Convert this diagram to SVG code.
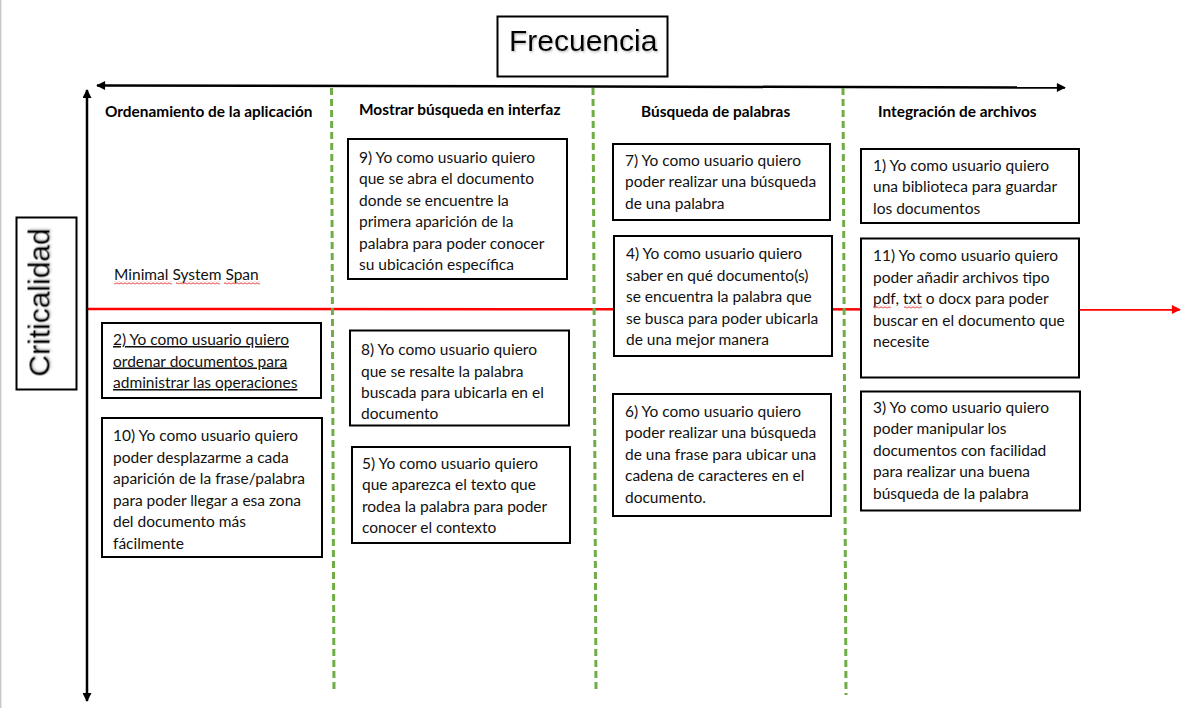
<svg xmlns="http://www.w3.org/2000/svg" width="1182" height="708" viewBox="0 0 1182 708">
<defs>
<style>
.box{fill:#fff;stroke:#000;stroke-width:2}
.t{font-family:Lato,"Open Sans","Liberation Sans",sans-serif;font-size:15.5px;fill:#111}
.h{font-family:Lato,"Open Sans","Liberation Sans",sans-serif;font-size:15.4px;font-weight:bold;fill:#000}
.big{font-family:"Liberation Sans",Arial,sans-serif;font-size:30px;fill:#000}
.axis{stroke:#000;stroke-width:2.5;fill:none}
.div{stroke:#70AD47;stroke-width:3;stroke-dasharray:7 4;fill:none}
.red{stroke:#FF0000;stroke-width:2.5;fill:none}
</style>
<marker id="ab" viewBox="0 0 10 10" refX="9" refY="5" markerWidth="10" markerHeight="9" markerUnits="userSpaceOnUse" orient="auto-start-reverse">
<path d="M0,0 L10,5 L0,10 Z" fill="#000"/>
</marker>
<marker id="ar" viewBox="0 0 10 10" refX="9" refY="5" markerWidth="10" markerHeight="9" markerUnits="userSpaceOnUse" orient="auto">
<path d="M0,0 L10,5 L0,10 Z" fill="#FF0000"/>
</marker>
<pattern id="sq" width="4" height="3" patternUnits="userSpaceOnUse">
<path d="M0,1.5 Q1,0 2,1.5 Q3,3 4,1.5" stroke="#E02020" stroke-width="0.9" fill="none"/>
</pattern>
<filter id="sh" x="-10%" y="-10%" width="120%" height="130%">
<feDropShadow dx="1" dy="1.2" stdDeviation="0.9" flood-color="#777" flood-opacity="0.55"/>
</filter>
</defs>
<rect x="0" y="0" width="1182" height="708" fill="#fff"/>
<line x1="0.7" y1="0" x2="0.7" y2="708" stroke="#c8c8c8" stroke-width="1.4"/>

<g id="connectors">
<line class="red" x1="87" y1="309" x2="1180" y2="309.5" marker-end="url(#ar)"/>
<line class="axis" x1="97" y1="85.5" x2="1065" y2="87.5" marker-start="url(#ab)" marker-end="url(#ab)"/>
<line class="axis" x1="87" y1="90" x2="87" y2="701" marker-start="url(#ab)" marker-end="url(#ab)"/>
<line class="div" x1="331.5" y1="88" x2="334" y2="693"/>
<line class="div" x1="593" y1="88" x2="596" y2="692"/>
<line class="div" x1="843" y1="88" x2="846" y2="695"/>
</g>

<g id="frecuencia">
<rect class="box" x="497.5" y="16.5" width="170" height="60" stroke-width="1.3"/>
<text class="big" x="509" y="51" filter="url(#sh)">Frecuencia</text>
</g>

<g id="criticalidad">
<rect class="box" x="16.5" y="217.5" width="60" height="172" stroke-width="1.3"/>
<text class="big" transform="translate(49.5,302.5) rotate(-90)" text-anchor="middle" filter="url(#sh)">Criticalidad</text>
</g>

<g id="headers">
<text class="h" x="105" y="116.5">Ordenamiento de la aplicación</text>
<text class="h" x="359" y="114.5">Mostrar búsqueda en interfaz</text>
<text class="h" x="641" y="116.5">Búsqueda de palabras</text>
<text class="h" x="878" y="116.5">Integración de archivos</text>
</g>

<g id="mss">
<text class="t" x="114" y="280">Minimal System Span</text>
<rect x="114" y="281.5" width="58" height="3" fill="url(#sq)"/>
<rect x="176" y="281.5" width="44" height="3" fill="url(#sq)"/>
<rect x="224" y="281.5" width="36" height="3" fill="url(#sq)"/>
</g>

<g id="n9">
<rect class="box" x="348" y="139" width="219" height="140"/>
<text class="t"><tspan x="359" y="162.5">9) Yo como usuario quiero</tspan><tspan x="359" y="184">que se abra el documento</tspan><tspan x="359" y="205.5">donde se encuentre la</tspan><tspan x="359" y="227">primera aparición de la</tspan><tspan x="359" y="248.5">palabra para poder conocer</tspan><tspan x="359" y="270">su ubicación específica</tspan></text>
</g>

<g id="n7">
<rect class="box" x="613" y="144" width="217" height="76"/>
<text class="t"><tspan x="625" y="165.5">7) Yo como usuario quiero</tspan><tspan x="625" y="187">poder realizar una búsqueda</tspan><tspan x="625" y="208.5">de una palabra</tspan></text>
</g>

<g id="n1">
<rect class="box" x="861" y="149" width="218" height="74"/>
<text class="t"><tspan x="873" y="170.5">1) Yo como usuario quiero</tspan><tspan x="873" y="192">una biblioteca para guardar</tspan><tspan x="873" y="213.5">los documentos</tspan></text>
</g>

<g id="n4">
<rect class="box" x="614" y="236" width="218" height="120"/>
<text class="t"><tspan x="626" y="259">4) Yo como usuario quiero</tspan><tspan x="626" y="280.5">saber en qué documento(s)</tspan><tspan x="626" y="302">se encuentra la palabra que</tspan><tspan x="626" y="323.5">se busca para poder ubicarla</tspan><tspan x="626" y="345">de una mejor manera</tspan></text>
</g>

<g id="n11">
<rect class="box" x="861" y="238.5" width="218" height="139"/>
<text class="t"><tspan x="873" y="261">11) Yo como usuario quiero</tspan><tspan x="873" y="282.5">poder añadir archivos tipo</tspan><tspan x="873" y="304">pdf, txt o docx para poder</tspan><tspan x="873" y="325.5">buscar en el documento que</tspan><tspan x="873" y="347">necesite</tspan></text>
<rect x="873" y="305.5" width="18" height="3" fill="url(#sq)"/>
<rect x="904" y="305.5" width="18" height="3" fill="url(#sq)"/>
</g>

<g id="n2">
<rect class="box" x="102" y="323" width="219" height="75"/>
<text class="t" text-decoration="underline"><tspan x="113" y="345">2) Yo como usuario quiero</tspan><tspan x="113" y="366.5">ordenar documentos para</tspan><tspan x="113" y="388">administrar las operaciones</tspan></text>
</g>

<g id="n8">
<rect class="box" x="350" y="330.5" width="219" height="95"/>
<text class="t"><tspan x="361" y="355">8) Yo como usuario quiero</tspan><tspan x="361" y="376.5">que se resalte la palabra</tspan><tspan x="361" y="398">buscada para ubicarla en el</tspan><tspan x="361" y="419">documento</tspan></text>
</g>

<g id="n6">
<rect class="box" x="613" y="394" width="218" height="122"/>
<text class="t"><tspan x="625" y="416.5">6) Yo como usuario quiero</tspan><tspan x="625" y="438">poder realizar una búsqueda</tspan><tspan x="625" y="459.5">de una frase para ubicar una</tspan><tspan x="625" y="481">cadena de caracteres en el</tspan><tspan x="625" y="502.5">documento.</tspan></text>
</g>

<g id="n3">
<rect class="box" x="861" y="391.5" width="219" height="119"/>
<text class="t"><tspan x="873" y="412.5">3) Yo como usuario quiero</tspan><tspan x="873" y="434">poder manipular los</tspan><tspan x="873" y="455.5">documentos con facilidad</tspan><tspan x="873" y="477">para realizar una buena</tspan><tspan x="873" y="498.5">búsqueda de la palabra</tspan></text>
</g>

<g id="n10">
<rect class="box" x="102" y="418" width="220" height="139"/>
<text class="t"><tspan x="113" y="441">10) Yo como usuario quiero</tspan><tspan x="113" y="462.5">poder desplazarme a cada</tspan><tspan x="113" y="484">aparición de la frase/palabra</tspan><tspan x="113" y="505.5">para poder llegar a esa zona</tspan><tspan x="113" y="527">del documento más</tspan><tspan x="113" y="548.5">fácilmente</tspan></text>
</g>

<g id="n5">
<rect class="box" x="352" y="447" width="218" height="96"/>
<text class="t"><tspan x="362" y="468.5">5) Yo como usuario quiero</tspan><tspan x="362" y="490">que aparezca el texto que</tspan><tspan x="362" y="511.5">rodea la palabra para poder</tspan><tspan x="362" y="533">conocer el contexto</tspan></text>
</g>
</svg>
